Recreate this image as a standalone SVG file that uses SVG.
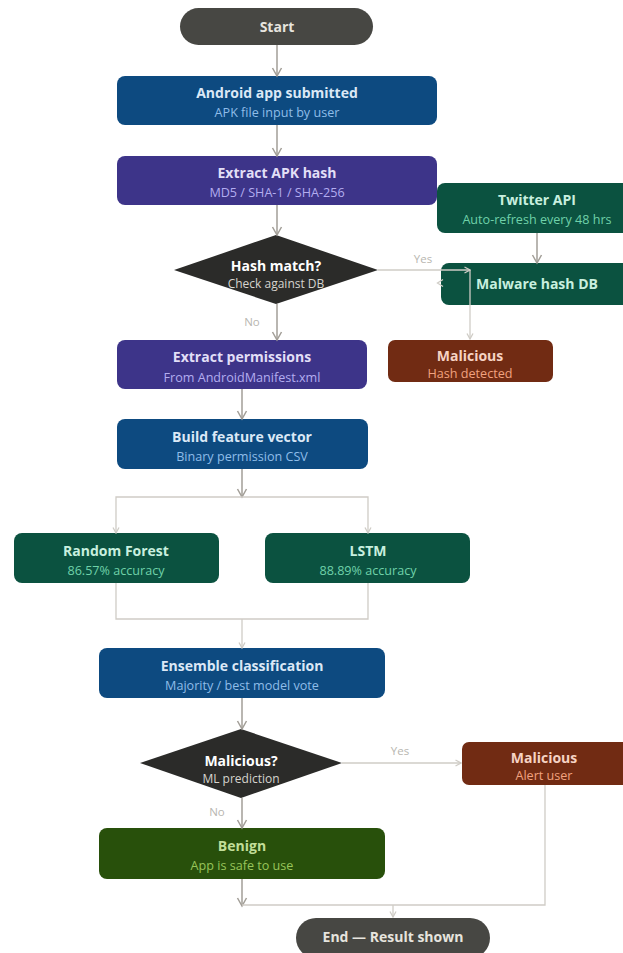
<svg xmlns="http://www.w3.org/2000/svg" width="623" height="953" viewBox="0 0 623 953">
<style>
text{font-family:"Open Sans","Noto Sans","DejaVu Sans",sans-serif;text-anchor:middle}
.t{font-size:14px;font-weight:700}
.s{font-size:12.6px}
.dia .s{font-size:12px}
.lbl{font-size:11.5px;fill:#b8b6b0}
.dk{fill:none;stroke:#a29e97;stroke-width:1.5}
.lt{fill:none;stroke:#cfccc6;stroke-width:1.3}
.blue rect{fill:#0d4a80}.blue .t{fill:#dbe8f6}.blue .s{fill:#8fbde9}
.purp rect{fill:#3d3489}.purp .t{fill:#e2dff7}.purp .s{fill:#b3adf0}
.teal rect{fill:#0b5240}.teal .t{fill:#c8efdf}.teal .s{fill:#6fd1a9}
.red rect{fill:#712b13}.red .t{fill:#f6d3c4}.red .s{fill:#f2a27f}
.grn rect{fill:#28500b}.grn .t{fill:#c2de99}.grn .s{fill:#98c55a}
.term rect{fill:#474743}.term .t{fill:#e6e4de}
.dia polygon{fill:#2b2b29}.dia .t{fill:#ffffff}.dia .s{fill:#d6d4ce}
</style>
<defs>
<marker id="ad" viewBox="0 0 12 12" refX="10" refY="6" markerWidth="12" markerHeight="12" markerUnits="userSpaceOnUse" orient="auto">
<path d="M2,1.5 L10,6 L2,10.5" fill="none" stroke="#a29e97" stroke-width="1.5"/>
</marker>
<marker id="al" viewBox="0 0 8 8" refX="7" refY="4" markerWidth="8" markerHeight="8" markerUnits="userSpaceOnUse" orient="auto">
<path d="M1.5,1 L7,4 L1.5,7" fill="none" stroke="#cfccc6" stroke-width="1.3"/>
</marker>
</defs>
<g id="start" class="term"><rect x="180" y="8" width="193" height="37" rx="18.5"/><text class="t" x="277" y="32">Start</text></g>
<g id="submit" class="blue"><rect x="117" y="76" width="320" height="49" rx="8"/><text class="t" x="277" y="98">Android app submitted</text><text class="s" x="277" y="117">APK file input by user</text></g>
<g id="hash" class="purp"><rect x="117" y="156" width="320" height="49" rx="8"/><text class="t" x="277" y="178">Extract APK hash</text><text class="s" x="277" y="197">MD5 / SHA-1 / SHA-256</text></g>
<g id="twitter" class="teal"><rect x="437" y="183" width="200" height="50" rx="8"/><text class="t" x="537" y="205">Twitter API</text><text class="s" x="537" y="224">Auto-refresh every 48 hrs</text></g>
<g id="hashdb" class="teal"><rect x="441" y="263" width="196" height="42" rx="8"/><text class="t" x="537" y="289">Malware hash DB</text></g>
<g id="hashmatch" class="dia"><polygon points="174,270 276,235 378,270 276,304"/><text class="t" x="276" y="271">Hash match?</text><text class="s" x="276" y="288">Check against DB</text></g>
<g id="perms" class="purp"><rect x="117" y="340" width="250" height="49" rx="8"/><text class="t" x="242" y="362">Extract permissions</text><text class="s" x="242" y="382">From AndroidManifest.xml</text></g>
<g id="mal1" class="red"><rect x="388" y="340" width="165" height="42" rx="7"/><text class="t" x="470" y="361">Malicious</text><text class="s" x="470" y="378">Hash detected</text></g>
<g id="feature" class="blue"><rect x="117" y="419" width="251" height="50" rx="8"/><text class="t" x="242" y="442">Build feature vector</text><text class="s" x="242" y="461">Binary permission CSV</text></g>
<g id="rf" class="teal"><rect x="14" y="533" width="205" height="50" rx="8"/><text class="t" x="116" y="556">Random Forest</text><text class="s" x="116" y="575">86.57% accuracy</text></g>
<g id="lstm" class="teal"><rect x="265" y="533" width="205" height="50" rx="8"/><text class="t" x="368" y="556">LSTM</text><text class="s" x="368" y="575">88.89% accuracy</text></g>
<g id="ensemble" class="blue"><rect x="99" y="648" width="286" height="50" rx="8"/><text class="t" x="242" y="671">Ensemble classification</text><text class="s" x="242" y="690">Majority / best model vote</text></g>
<g id="malq" class="dia"><polygon points="140,763 241,729 342,763 241,798"/><text class="t" x="241" y="766">Malicious?</text><text class="s" x="241" y="783">ML prediction</text></g>
<g id="mal2" class="red"><rect x="462" y="742" width="175" height="43" rx="7"/><text class="t" x="544" y="763">Malicious</text><text class="s" x="544" y="780">Alert user</text></g>
<g id="benign" class="grn"><rect x="99" y="828" width="286" height="51" rx="8"/><text class="t" x="242" y="851">Benign</text><text class="s" x="242" y="870">App is safe to use</text></g>
<g id="end" class="term"><rect x="296" y="918" width="194" height="40" rx="20"/><text class="t" x="393" y="942">End — Result shown</text></g>
<g id="connectors">
<path class="dk" d="M277,45 V76" marker-end="url(#ad)"/>
<path class="dk" d="M277,125 V156" marker-end="url(#ad)"/>
<path class="dk" d="M277,205 V235" marker-end="url(#ad)"/>
<path class="dk" d="M537,233 V263" marker-end="url(#ad)"/>
<path class="lt" d="M378,270 H470" marker-end="url(#al)"/>
<path class="lt" d="M470,270 V339" marker-end="url(#al)"/>
<path class="lt" d="M443,279.5 L437.5,283 L443,286.5" stroke="#bdbab4"/>
<path class="dk" d="M277,304 V340" marker-end="url(#ad)"/>
<path class="dk" d="M242,389 V419" marker-end="url(#ad)"/>
<path class="dk" d="M242,469 V497" marker-end="url(#ad)"/>
<path class="lt" d="M242,497 H116 V533" marker-end="url(#al)"/>
<path class="lt" d="M242,497 H368 V533" marker-end="url(#al)"/>
<path class="lt" d="M116,583 V619 H368 V583"/>
<path class="lt" d="M242,619 V648" marker-end="url(#al)"/>
<path class="dk" d="M242,698 V729" marker-end="url(#ad)"/>
<path class="lt" d="M342,763 H461" marker-end="url(#al)"/>
<path class="dk" d="M242,798 V828" marker-end="url(#ad)"/>
<path class="dk" d="M242,879 V906" marker-end="url(#ad)"/>
<path class="lt" d="M545,785 V905 H242"/>
<path class="lt" d="M393,905 V917" marker-end="url(#al)"/>
<text class="lbl" x="423" y="263">Yes</text>
<text class="lbl" x="252" y="326">No</text>
<text class="lbl" x="400" y="755">Yes</text>
<text class="lbl" x="217" y="816">No</text>
</g>
</svg>
